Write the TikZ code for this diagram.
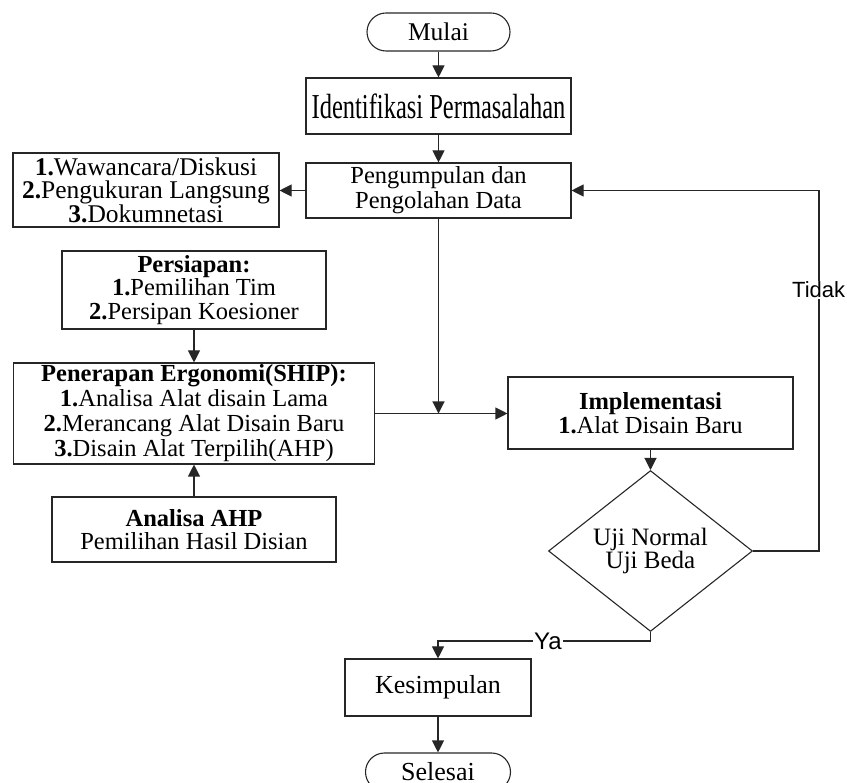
\documentclass[tikz,border=0pt]{standalone}
\usepackage{fontspec}
\setmainfont{Liberation Serif}
\newfontfamily\sansf{Liberation Sans}
\newfontfamily\condf[FakeStretch=0.7]{Liberation Serif}
\usetikzlibrary{arrows.meta,shapes.geometric}
\begin{document}
\begin{tikzpicture}[x=1pt,y=-1pt,
 base/.style={draw=black!85, line width=1.1pt, inner sep=0pt, align=center, font=\fontsize{24.5}{24}\selectfont},
 proc/.style={base, rectangle},
 term/.style={base, rectangle, rounded corners=19pt},
 dec/.style={base, diamond},
 conn/.style={draw=black!85, line width=1.1pt, -{Triangle[length=12pt,width=12pt]}},
 lab/.style={fill=white, inner sep=1pt, font=\sansf\fontsize{22}{22}\selectfont}]
\useasboundingbox (0,0) rectangle (847,783);
\node[term, minimum width=143pt, minimum height=38pt, font=\fontsize{25.5}{25}\selectfont] (mulai) at (438.5,32) {Mulai};
\node[proc, minimum width=265pt, minimum height=56pt, font=\condf\fontsize{35}{35}\selectfont] (ident) at (438.5,106) {Identifikasi Permasalahan};
\node[proc, minimum width=265pt, minimum height=55pt, font=\fontsize{24.5}{25}\selectfont] (peng) at (438.5,190.5) {Pengumpulan dan\\Pengolahan Data};
\node[proc, minimum width=266pt, minimum height=74pt, font=\fontsize{25.5}{23.5}\selectfont] (list) at (146,190) {\textbf{1.}Wawancara/Diskusi\\\textbf{2.}Pengukuran Langsung\\\textbf{3.}Dokumnetasi};
\node[proc, minimum width=264pt, minimum height=78pt, font=\fontsize{24.5}{23.5}\selectfont] (persiapan) at (194,290) {\textbf{Persiapan:}\\\textbf{1.}Pemilihan Tim\\\textbf{2.}Persipan Koesioner};
\node[proc, minimum width=361pt, minimum height=101pt, font=\fontsize{24.5}{25}\selectfont] (penerapan) at (194,413.5) {\textbf{Penerapan Ergonomi(SHIP):}\\\textbf{1.}Analisa Alat disain Lama\\\textbf{2.}Merancang Alat Disain Baru\\\textbf{3.}Disain Alat Terpilih(AHP)};
\node[proc, minimum width=284pt, minimum height=65pt, font=\fontsize{24.5}{23.5}\selectfont] (analisa) at (194,529.5) {\textbf{Analisa AHP}\\Pemilihan Hasil Disian};
\node[proc, minimum width=285pt, minimum height=72pt, font=\fontsize{24.5}{24}\selectfont] (impl) at (650.5,413) {\textbf{Implementasi}\\\textbf{1.}Alat Disain Baru};
\node[dec, minimum width=204pt, minimum height=134pt, font=\fontsize{25}{21}\selectfont] (dec) at (650.5,551) {Uji Normal\\Uji Beda};
\node[proc, minimum width=186pt, minimum height=57pt, font=\fontsize{26}{26}\selectfont] (kes) at (438,687.5) {Kesimpulan};
\node[term, minimum width=145pt, minimum height=38pt, font=\fontsize{26}{26}\selectfont] (selesai) at (438,772) {Selesai};
\coordinate (loopc) at (819,0);
\coordinate (yac) at (0,641);
\draw[conn] (mulai) -- (ident);
\draw[conn] (ident) -- (peng);
\draw[conn] (peng.west) -- (list.east |- peng.west);
\draw[conn] (peng.south) -- (peng.south |- penerapan.east);
\draw[conn] (penerapan.east) -- (impl.west |- penerapan.east);
\draw[conn] (persiapan.south) -- (persiapan.south |- penerapan.north);
\draw[conn] (analisa.north) -- (analisa.north |- penerapan.south);
\draw[conn] (impl.south) -- (dec.north);
\draw[conn] (dec.east) -- (dec.east -| loopc) -- (loopc |- peng.east) -- (peng.east);
\node[lab, anchor=west] (tidak) at (791,290) {Tidak};
\draw[conn] (dec.south) -- (dec.south |- yac) -- (kes.north |- yac) -- (kes.north);
\node[lab, font=\sansf\fontsize{24}{24}\selectfont] (ya) at (548,641) {Ya};
\draw[conn] (kes) -- (selesai);
\end{tikzpicture}
\end{document}
